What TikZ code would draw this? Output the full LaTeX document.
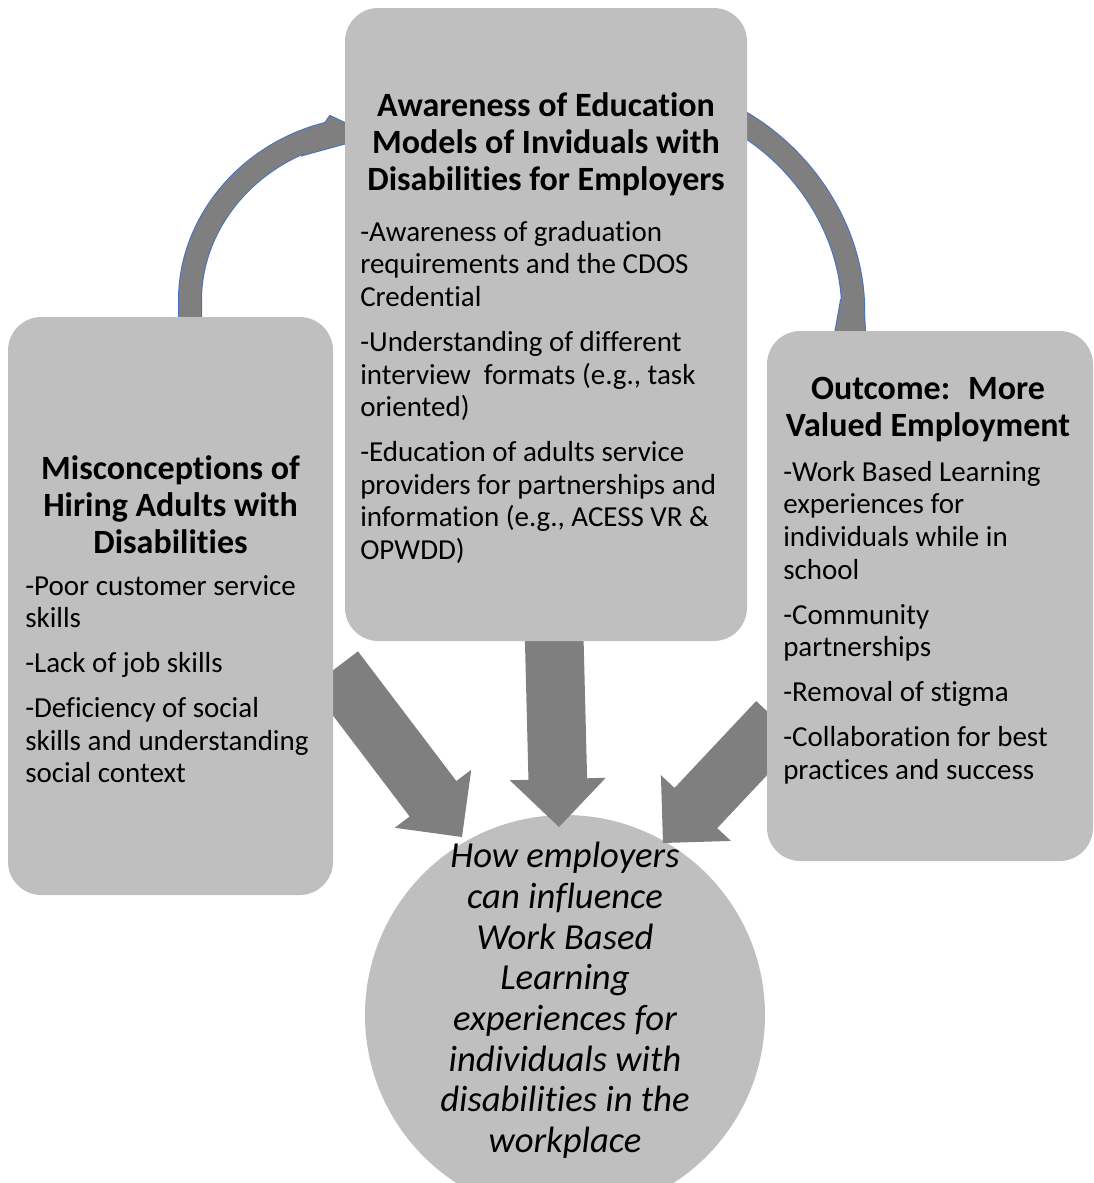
\documentclass[tikz,border=0pt]{standalone}
\usepackage{fontspec}
\setmainfont{Carlito}[Ligatures={NoCommon,NoContextual},Contextuals=NoAlternate]
\usetikzlibrary{calc}
\definecolor{boxgray}{HTML}{BFBFBF}
\definecolor{arrowgray}{HTML}{7F7F7F}
\definecolor{rimblue}{HTML}{4472C4}

% block arrow from tail coordinate #1 to tip coordinate #2
\newcommand{\drawblockarrow}[2]{%
  \coordinate (hb) at ($(#2)!36pt!(#1)$);
  \fill[arrowgray] ($(#1)!22pt!90:(#2)$) -- ($(hb)!22pt!90:(#2)$)
    -- ($(hb)!36pt!90:(#2)$) -- (#2) -- ($(hb)!36pt!-90:(#2)$)
    -- ($(hb)!22pt!-90:(#2)$) -- ($(#1)!22pt!-90:(#2)$) -- cycle;
}

\begin{document}
\begin{tikzpicture}[x=0.75pt,y=-0.75pt,
  box/.style={draw=none, fill=boxgray, rounded corners=25pt, inner sep=0pt},
  hub/.style={circle, draw=none, fill=boxgray, inner sep=0pt, minimum size=300pt},
  ttl/.style={font=\bfseries\fontsize{25.5}{27.75}\selectfont, align=center, inner sep=0pt, anchor=north},
  bodytxt/.style={font=\fontsize{21.75}{24.4}\selectfont, align=left, inner sep=0pt, anchor=north west},
  hubtxt/.style={font=\itshape\fontsize{27.5}{30.5}\selectfont, align=center, inner sep=0pt, anchor=north},
  arcline/.style={line width=#1, line cap=butt},
]
\useasboundingbox (0,0) rectangle (1094,1183);

% curved cycle arrows (behind the boxes)
\coordinate (la0) at (190,345);
\coordinate (la1) at (190,300);
\coordinate (la2) at (190,222);
\coordinate (la3) at (250,150);
\coordinate (la4) at (335,132);
\coordinate (lh1) at (330,116);
\coordinate (lh2) at (372,136);
\coordinate (lh3) at (303,155);

\coordinate (ra0) at (737,120);
\coordinate (ra1) at (800,155);
\coordinate (ra2) at (850,225);
\coordinate (ra3) at (853,303);
\coordinate (ra4) at (853,345);
\coordinate (rh1) at (841,300);
\coordinate (rh2) at (833,345);
\coordinate (rh3) at (866,345);
\coordinate (rh4) at (863,300);

% blue rim
\draw[rimblue, arcline=18pt] (la0) -- (la1) .. controls (la2) and (la3) .. (la4);
\filldraw[rimblue, line width=1.5pt] (lh1) -- (lh2) -- (lh3) -- cycle;
\draw[rimblue, arcline=18pt] (ra0) .. controls (ra1) and (ra2) .. (ra3) -- (ra4);
\filldraw[rimblue, line width=1.5pt] (rh1) -- (rh2) -- (rh3) -- (rh4) -- cycle;
% gray body
\draw[arrowgray, arcline=16.5pt] (la0) -- (la1) .. controls (la2) and (la3) .. (la4);
\fill[arrowgray] (lh1) -- (lh2) -- (lh3) -- cycle;
\draw[arrowgray, arcline=16.5pt] (ra0) .. controls (ra1) and (ra2) .. (ra3) -- (ra4);
\fill[arrowgray] (rh1) -- (rh2) -- (rh3) -- (rh4) -- cycle;

% central circle
\node[hub] (hubc) at (565,1015) {};

% block arrows into the circle
\coordinate (lt) at (334.6,669.1);
\coordinate (lp) at (462,837);
\coordinate (mt) at (554,630);
\coordinate (mp) at (559,827);
\coordinate (rt) at (777.6,721.1);
\coordinate (rp) at (663,843);
\drawblockarrow{lt}{lp}
\drawblockarrow{mt}{mp}
\drawblockarrow{rt}{rp}

% boxes
\node[box, minimum width=301.5pt, minimum height=474.75pt] (edu) at (546,324.5) {};
\node[box, minimum width=243.75pt, minimum height=433.5pt] (mis) at (170.5,606) {};
\node[box, minimum width=244.5pt, minimum height=397.5pt] (out) at (930,596) {};

% texts
\node[ttl] (edut) at (546,92) {Awareness of Education\\Models of Inviduals with\\Disabilities for Employers};
\node[bodytxt] (edub) at (360,221) {-Awareness of graduation\\requirements and the CDOS\\Credential\\[9.4pt]-Understanding of different\\interview~ formats (e.g., task\\oriented)\\[9.4pt]-Education of adults service\\providers for partnerships and\\information (e.g., ACESS VR \&\\OPWDD)};

\node[ttl] (mist) at (170.5,455) {Misconceptions of\\Hiring Adults with\\Disabilities};
\node[bodytxt] (misb) at (25,575) {-Poor customer service\\skills\\[9.4pt]-Lack of job skills\\[9.4pt]-Deficiency of social\\skills and understanding\\social context};

\node[ttl] (outt) at (928,377) {Outcome:~ More\\Valued Employment};
\node[bodytxt] (outb) at (783,461) {-Work Based Learning\\experiences for\\individuals while in\\school\\[9.4pt]-Community\\partnerships\\[9.4pt]-Removal of stigma\\[9.4pt]-Collaboration for best\\practices and success};

\node[hubtxt] (hubt) at (565,842) {How employers\\can influence\\Work Based\\Learning\\experiences for\\individuals with\\disabilities in the\\workplace};
\end{tikzpicture}
\end{document}
